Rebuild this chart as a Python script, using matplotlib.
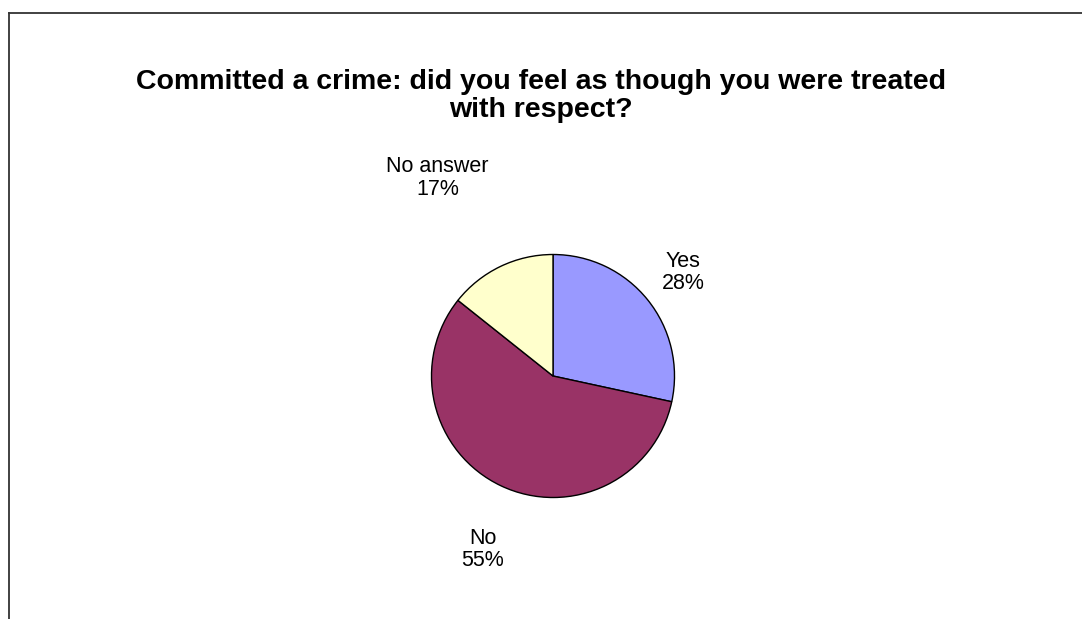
import numpy as np
import matplotlib.pyplot as plt

plt.rcParams['font.family'] = ['Liberation Sans', 'DejaVu Sans']

categories = ['Yes', 'No', 'No answer']
shares = [28.4, 57.3, 14.3]          # wedge sizes as drawn
pct_labels = ['28%', '55%', '17%']   # percentages as printed on the chart
colors = ['#9999FF', '#993366', '#FFFFCC']

W, H = 1082, 619
fig = plt.figure(figsize=(W / 100, H / 100), dpi=100)

# frame lines (left + top only, like the cropped chart area)
fig.add_artist(plt.Line2D([8.5 / W, 8.5 / W], [0, 1 - 12.5 / H], color='#333333', lw=1.3))
fig.add_artist(plt.Line2D([8.5 / W, 1], [1 - 12.5 / H, 1 - 12.5 / H], color='#333333', lw=1.3))

fig.text(541 / W, 1 - 96 / H, 'Committed a crime: did you feel as though you were treated\nwith respect?',
         ha='center', va='center', fontsize=20.5, fontweight='bold', linespacing=1.12)

cx, cy, r = 553, 376, 121.5
ax = fig.add_axes([(cx - r) / W, (H - cy - r) / H, 2 * r / W, 2 * r / H])
wedges, _ = ax.pie(shares, colors=colors, startangle=90, counterclock=False,
                   wedgeprops=dict(edgecolor='black', linewidth=1.0))
ax.set_xlim(-1, 1)
ax.set_ylim(-1, 1)
ax.set_aspect('equal')
ax.axis('off')

label_pos = {'Yes': (1.07, 0.85), 'No': (-0.58, -1.43), 'No answer': (-0.95, 1.63)}
for cat, pct in zip(categories, pct_labels):
    x, y = label_pos[cat]
    ax.text(x, y, f'{cat}\n{pct}', ha='center', va='center', fontsize=15.5,
            linespacing=1.08, clip_on=False)

fig.savefig('out.png', dpi=100)
